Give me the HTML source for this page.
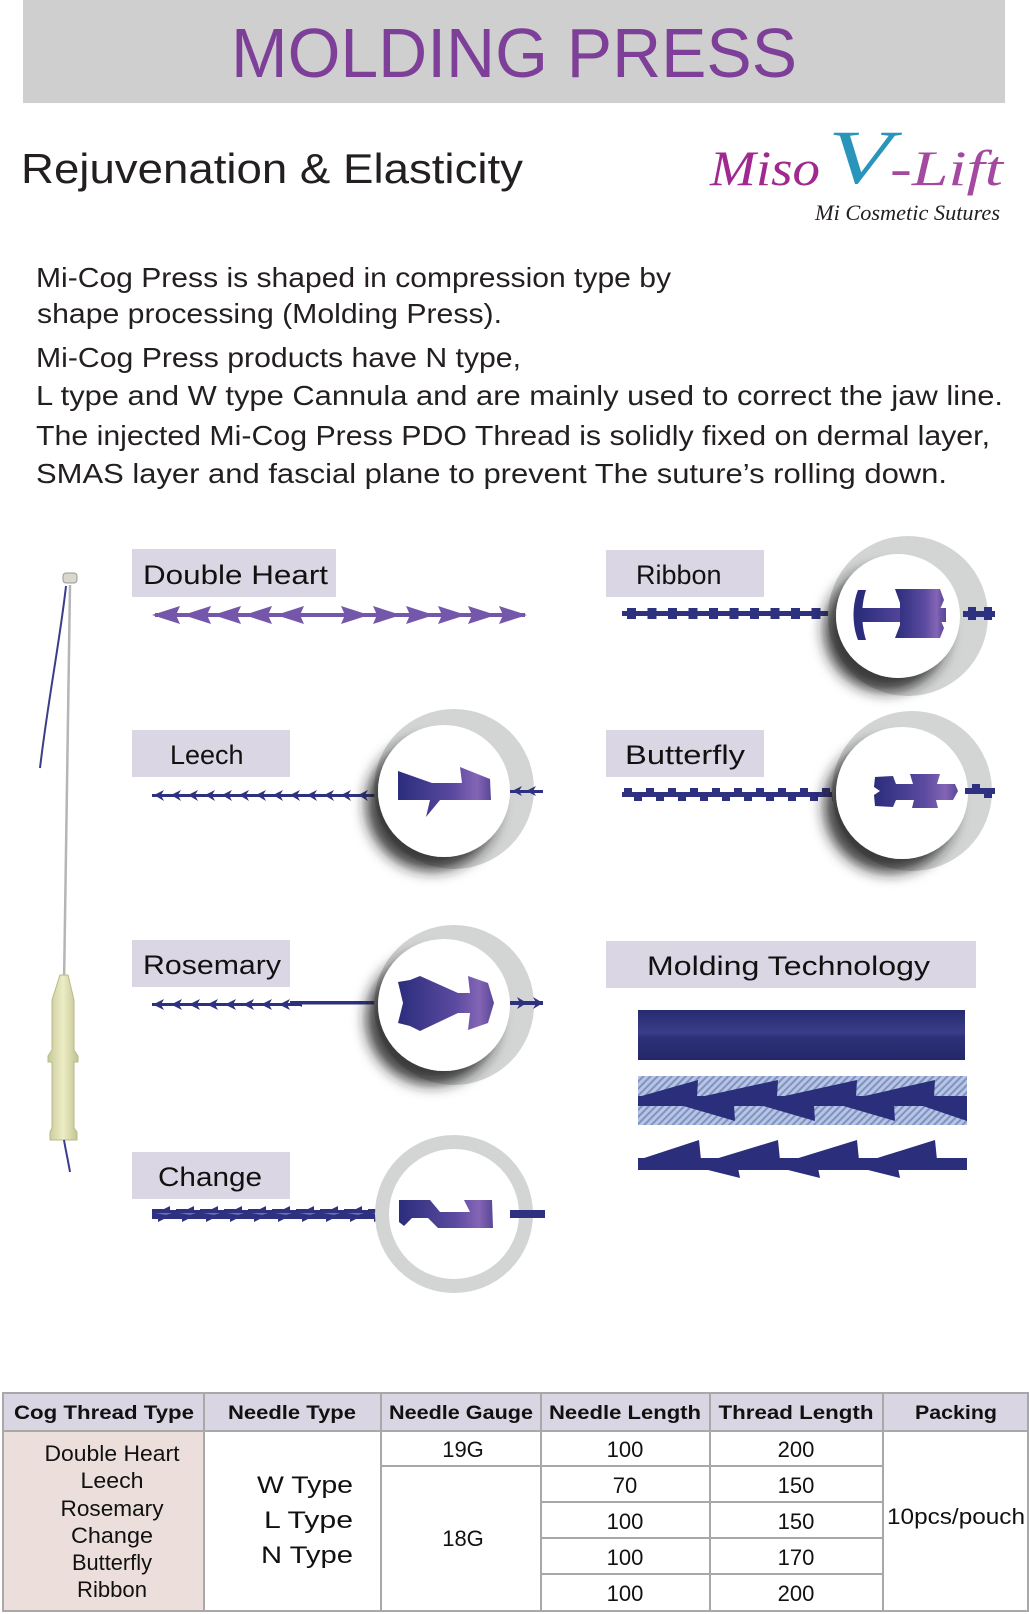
<!DOCTYPE html>
<html><head><meta charset="utf-8"><style>
html,body{margin:0;padding:0;background:#fff;}
svg{display:block;}
</style></head><body>
<svg width="1029" height="1614" viewBox="0 0 1029 1614" xmlns="http://www.w3.org/2000/svg" font-family="Liberation Sans, sans-serif">
<defs>
  <filter id="sh" x="-50%" y="-50%" width="200%" height="200%">
    <feDropShadow dx="-12" dy="14" stdDeviation="7" flood-color="#222" flood-opacity="0.85"/>
  </filter>
  <linearGradient id="gp" x1="0" x2="1" y1="0" y2="0">
    <stop offset="0" stop-color="#2b2d7c"/><stop offset="0.6" stop-color="#5b4aa0"/><stop offset="0.85" stop-color="#8465b5"/><stop offset="1" stop-color="#5a4798"/>
  </linearGradient>
  <linearGradient id="hub" x1="0" x2="1">
    <stop offset="0" stop-color="#c8c99a"/><stop offset="0.5" stop-color="#ecedc4"/><stop offset="1" stop-color="#c2c392"/>
  </linearGradient>
  <linearGradient id="bar1" x1="0" x2="0" y1="0" y2="1">
    <stop offset="0" stop-color="#262a6e"/><stop offset="0.45" stop-color="#3a3e8a"/><stop offset="0.55" stop-color="#2d3178"/><stop offset="1" stop-color="#23276a"/>
  </linearGradient>
  <pattern id="hatch" width="5" height="5" patternUnits="userSpaceOnUse" patternTransform="rotate(45)">
    <rect width="5" height="5" fill="#b7c4e2"/><rect width="2" height="5" fill="#7f92c4"/>
  </pattern>
  <pattern id="ribP" x="622" y="0" width="20.5" height="30" patternUnits="userSpaceOnUse">
    <rect x="0" y="11" width="20.5" height="5" fill="#2e3180"/><rect x="5" y="8" width="9" height="11" fill="#2e3180"/>
  </pattern>
  <pattern id="butP" x="622" y="0" width="22" height="30" patternUnits="userSpaceOnUse">
    <rect x="0" y="12" width="22" height="5" fill="#2e3180"/><rect x="2" y="8" width="8" height="5" fill="#2e3180"/><rect x="12" y="16" width="8" height="5" fill="#2e3180"/>
  </pattern>
  <pattern id="leeP" x="152" y="0" width="17" height="30" patternUnits="userSpaceOnUse">
    <rect x="0" y="14" width="17" height="3" fill="#2e3180"/><path d="M2 15 L12 10 L9 15 L12 21 Z" fill="#2e3180"/>
  </pattern>
  <pattern id="rosP" x="152" y="0" width="18" height="30" patternUnits="userSpaceOnUse">
    <rect x="0" y="13" width="18" height="3" fill="#2e3180"/><path d="M1 14.5 L12 9 L9 14.5 L12 20 Z" fill="#2e3180"/>
  </pattern>
  <pattern id="chP" x="152" y="0" width="24" height="30" patternUnits="userSpaceOnUse">
    <path d="M0 9 L12 9 L18 6 L18 10 L24 10 L24 19 L12 19 L6 22 L6 19 L0 19 Z" fill="#2e3180"/>
    <path d="M3 13 L20 13 L14 15 Z" fill="#6a6fb0"/>
  </pattern>
</defs>

<rect x="23" y="0" width="982" height="103" fill="#cfcfcf"/>
<text x="514" y="77" text-anchor="middle" font-size="70" fill="#7e3f98" textLength="566" lengthAdjust="spacingAndGlyphs">MOLDING PRESS</text>

<text x="21" y="183" font-size="42" fill="#231f20" textLength="502" lengthAdjust="spacingAndGlyphs">Rejuvenation &amp; Elasticity</text>

<text x="710" y="185" font-family="Liberation Serif, serif" font-style="italic" font-size="50" fill="#a0288f" textLength="110" lengthAdjust="spacingAndGlyphs">Miso</text>
<text x="828" y="183" font-family="Liberation Serif, serif" font-style="italic" font-size="76" fill="#2a95bb" textLength="64" lengthAdjust="spacingAndGlyphs">V</text>
<text x="890" y="185" font-family="Liberation Serif, serif" font-style="italic" font-size="50" fill="#a449a0" textLength="113" lengthAdjust="spacingAndGlyphs">-Lift</text>
<text x="815" y="220" font-family="Liberation Serif, serif" font-style="italic" font-size="22" fill="#231f20" textLength="185" lengthAdjust="spacingAndGlyphs">Mi Cosmetic Sutures</text>

<g font-size="28" fill="#231f20">
<text x="36" y="287" textLength="635" lengthAdjust="spacingAndGlyphs">Mi-Cog Press is shaped in compression type by</text>
<text x="37" y="323" textLength="465" lengthAdjust="spacingAndGlyphs">shape processing (Molding Press).</text>
<text x="36" y="367" textLength="485" lengthAdjust="spacingAndGlyphs">Mi-Cog Press products have N type,</text>
<text x="36" y="405" textLength="967" lengthAdjust="spacingAndGlyphs">L type and W type Cannula and are mainly used to correct the jaw line.</text>
<text x="36" y="445" textLength="954" lengthAdjust="spacingAndGlyphs">The injected Mi-Cog Press PDO Thread is solidly fixed on dermal layer,</text>
<text x="36" y="483" textLength="911" lengthAdjust="spacingAndGlyphs">SMAS layer and fascial plane to prevent  The suture’s rolling down.</text>
</g>

<line x1="70" y1="585" x2="64" y2="985" stroke="#b5b5b5" stroke-width="2.5"/>
<path d="M66 586 C60 640 48 700 40 768" stroke="#3a3d88" stroke-width="2" fill="none"/>
<rect x="63" y="573" width="14" height="10" rx="3" fill="#d8d8cc" stroke="#999" stroke-width="1"/>
<path d="M60 975 L68 975 L74 1000 L74 1050 L78 1056 L78 1062 L74 1062 L74 1128 L77 1132 L77 1140 L50 1140 L50 1132 L52 1128 L52 1062 L48 1062 L48 1056 L52 1050 L52 1000 Z" fill="url(#hub)" stroke="#b8b98a" stroke-width="1"/>
<path d="M64 1140 C66 1152 68 1160 70 1172" stroke="#3a3d88" stroke-width="2" fill="none"/>

<g fill="#dbd6e3">
<rect x="132" y="549" width="204" height="48"/>
<rect x="606" y="550" width="158" height="47"/>
<rect x="132" y="730" width="158" height="47"/>
<rect x="606" y="730" width="158" height="47"/>
<rect x="132" y="940" width="158" height="47"/>
<rect x="606" y="941" width="370" height="47"/>
<rect x="132" y="1152" width="158" height="47"/>
</g>
<g font-size="27" fill="#111">
<text x="143" y="584" textLength="185" lengthAdjust="spacingAndGlyphs">Double Heart</text>
<text x="636" y="584">Ribbon</text>
<text x="170" y="764">Leech</text>
<text x="625" y="764" textLength="120" lengthAdjust="spacingAndGlyphs">Butterfly</text>
<text x="143" y="974" textLength="138" lengthAdjust="spacingAndGlyphs">Rosemary</text>
<text x="647" y="975" textLength="283" lengthAdjust="spacingAndGlyphs">Molding Technology</text>
<text x="158" y="1186" textLength="104" lengthAdjust="spacingAndGlyphs">Change</text>
</g>

<g fill="#7457aa">
<rect x="155" y="613" width="370" height="4"/>
<path d="M152 615 L180 606 L176 615 L180 624 Z"/>
<path d="M183 615 L211 606 L207 615 L211 624 Z"/>
<path d="M213 615 L241 606 L237 615 L241 624 Z"/>
<path d="M244 615 L272 606 L268 615 L272 624 Z"/>
<path d="M276 615 L304 606 L300 615 L304 624 Z"/>
<path d="M369 615 L341 606 L345 615 L341 624 Z"/>
<path d="M401 615 L373 606 L377 615 L373 624 Z"/>
<path d="M434 615 L406 606 L410 615 L406 624 Z"/>
<path d="M466 615 L438 606 L442 615 L438 624 Z"/>
<path d="M496 615 L468 606 L472 615 L468 624 Z"/>
<path d="M527 615 L499 606 L503 615 L499 624 Z"/>
</g>

<rect x="622" y="601" width="215" height="30" fill="url(#ribP)"/>
<circle cx="908" cy="616" r="80" fill="#d3d5d4"/>
<circle cx="898" cy="616" r="62" fill="#fff" filter="url(#sh)"/>
<rect x="963" y="611" width="32" height="6" fill="#2e3180"/><rect x="968" y="607" width="8" height="13" fill="#2e3180"/><rect x="984" y="607" width="8" height="13" fill="#2e3180"/>
<path d="M858 590 L866 590 C861 605 861 625 866 640 L858 640 C852 625 852 605 858 590 Z" fill="#2b2d7c"/>
<rect x="858" y="608" width="88" height="14" fill="url(#gp)"/>
<path d="M895 589 L940 589 L944 600 L938 614 L944 628 L940 638 L895 638 L900 625 L900 603 Z" fill="url(#gp)"/>

<rect x="152" y="776" width="230" height="30" fill="url(#leeP)"/>
<circle cx="454" cy="789" r="80" fill="#d3d5d4"/>
<circle cx="444" cy="791" r="66" fill="#fff" filter="url(#sh)"/>
<rect x="510" y="790" width="33" height="3" fill="#2e3180"/><path d="M512 791 L522 786 L519 791 L522 796 Z M526 791 L536 786 L533 791 L536 796 Z" fill="#2e3180"/>
<path d="M398 771 L432 783 L462 783 L460 767 L490 779 L491 800 L440 800 L426 817 L430 800 L398 800 Z" fill="url(#gp)"/>

<rect x="622" y="776" width="218" height="30" fill="url(#butP)"/>
<circle cx="912" cy="791" r="80" fill="#d3d5d4"/>
<circle cx="902" cy="793" r="66" fill="#fff" filter="url(#sh)"/>
<rect x="965" y="788" width="30" height="6" fill="#2e3180"/><rect x="972" y="784" width="8" height="6" fill="#2e3180"/><rect x="984" y="792" width="8" height="6" fill="#2e3180"/>
<path d="M875 777 L893 776 L896 784 L913 784 L910 774 L940 774 L937 784 L955 784 L958 791 L953 800 L936 800 L938 808 L912 808 L914 800 L896 800 L893 807 L875 806 L874 795 L880 791 L874 787 Z" fill="url(#gp)"/>

<rect x="152" y="988" width="150" height="30" fill="url(#rosP)"/>
<rect x="290" y="1001" width="92" height="3.5" fill="#2e3180"/>
<circle cx="454" cy="1005" r="80" fill="#d3d5d4"/>
<circle cx="444" cy="1005" r="66" fill="#fff" filter="url(#sh)"/>
<rect x="510" y="1001" width="33" height="4" fill="#2e3180"/><path d="M543 1003 L533 997 L536 1003 L533 1009 Z M527 1003 L517 997 L520 1003 L517 1009 Z" fill="#2e3180"/>
<path d="M398 982 L410 980 L420 976 L458 993 L470 993 L468 976 L488 983 L494 1003 L488 1023 L468 1030 L470 1013 L458 1013 L420 1031 L410 1026 L398 1023 L403 1003 Z" fill="url(#gp)"/>

<rect x="152" y="1200" width="235" height="30" fill="url(#chP)"/>
<circle cx="454" cy="1214" r="72" fill="none" stroke="#d3d5d4" stroke-width="14"/>
<rect x="510" y="1210" width="35" height="8" fill="#2e3180"/>
<path d="M399 1200 L430 1200 L440 1212 L470 1212 L464 1200 L492 1200 L493 1228 L438 1228 L428 1218 L412 1218 L404 1226 L399 1222 Z" fill="url(#gp)"/>

<rect x="638" y="1010" width="327" height="50" fill="url(#bar1)"/>
<rect x="638" y="1076" width="329" height="49" fill="url(#hatch)"/>
<rect x="638" y="1096" width="329" height="10" fill="#2b2e7a"/>
<g fill="#2b2e7a">
<path d="M638 1097 L698 1080 L697 1097 Z"/><path d="M700 1097 L778 1080 L777 1097 Z"/><path d="M780 1097 L857 1080 L856 1097 Z"/><path d="M860 1097 L935 1080 L934 1097 Z"/>
<path d="M680 1105 L735 1121 L734 1105 Z"/><path d="M760 1105 L815 1121 L814 1105 Z"/><path d="M840 1105 L895 1121 L894 1105 Z"/><path d="M920 1105 L967 1121 L967 1105 Z"/>
</g>
<g fill="#2b2e7a">
<rect x="638" y="1158" width="329" height="12"/>
<path d="M638 1160 L699 1140 L701 1160 Z"/><path d="M712 1160 L778 1140 L780 1160 Z"/><path d="M792 1160 L857 1140 L859 1160 Z"/><path d="M871 1160 L935 1140 L937 1160 Z"/>
<path d="M700 1168 L740 1178 L738 1168 Z"/><path d="M780 1168 L820 1178 L818 1168 Z"/><path d="M860 1168 L900 1178 L898 1168 Z"/>
</g>

<rect x="3" y="1393" width="1026" height="38" fill="#d9d5e2"/>
<rect x="3" y="1431" width="201" height="180" fill="#ecdfdb"/>
<g stroke="#a8a8a8" stroke-width="2" fill="none">
<rect x="3" y="1393" width="1025" height="218"/>
<line x1="3" y1="1431" x2="1028" y2="1431"/>
<line x1="204" y1="1393" x2="204" y2="1611"/>
<line x1="381" y1="1393" x2="381" y2="1611"/>
<line x1="541" y1="1393" x2="541" y2="1611"/>
<line x1="710" y1="1393" x2="710" y2="1611"/>
<line x1="883" y1="1393" x2="883" y2="1611"/>
<line x1="381" y1="1466" x2="883" y2="1466"/>
<line x1="541" y1="1502" x2="883" y2="1502"/>
<line x1="541" y1="1538" x2="883" y2="1538"/>
<line x1="541" y1="1574" x2="883" y2="1574"/>
</g>
<g font-size="19" font-weight="bold" fill="#111" text-anchor="middle">
<text x="104" y="1419" textLength="180" lengthAdjust="spacingAndGlyphs">Cog Thread Type</text>
<text x="292" y="1419" textLength="128" lengthAdjust="spacingAndGlyphs">Needle Type</text>
<text x="461" y="1419" textLength="144" lengthAdjust="spacingAndGlyphs">Needle Gauge</text>
<text x="625" y="1419" textLength="152" lengthAdjust="spacingAndGlyphs">Needle Length</text>
<text x="796" y="1419" textLength="155" lengthAdjust="spacingAndGlyphs">Thread Length</text>
<text x="956" y="1419" textLength="82" lengthAdjust="spacingAndGlyphs">Packing</text>
</g>
<g font-size="22" fill="#111" text-anchor="middle">
<text x="112" y="1461" textLength="135" lengthAdjust="spacingAndGlyphs">Double Heart</text>
<text x="112" y="1488" textLength="63" lengthAdjust="spacingAndGlyphs">Leech</text>
<text x="112" y="1516" textLength="103" lengthAdjust="spacingAndGlyphs">Rosemary</text>
<text x="112" y="1543" textLength="82" lengthAdjust="spacingAndGlyphs">Change</text>
<text x="112" y="1570" textLength="80" lengthAdjust="spacingAndGlyphs">Butterfly</text>
<text x="112" y="1597" textLength="70" lengthAdjust="spacingAndGlyphs">Ribbon</text>
<text x="463" y="1457">19G</text>
<text x="463" y="1546">18G</text>
<text x="625" y="1457">100</text><text x="796" y="1457">200</text>
<text x="625" y="1493">70</text><text x="796" y="1493">150</text>
<text x="625" y="1529">100</text><text x="796" y="1529">150</text>
<text x="625" y="1565">100</text><text x="796" y="1565">170</text>
<text x="625" y="1601">100</text><text x="796" y="1601">200</text>
<text x="956" y="1524" textLength="138" lengthAdjust="spacingAndGlyphs">10pcs/pouch</text>
</g>
<g font-size="24" fill="#111">
<text x="257" y="1493" textLength="96" lengthAdjust="spacingAndGlyphs">W  Type</text>
<text x="264" y="1528" textLength="89" lengthAdjust="spacingAndGlyphs">L   Type</text>
<text x="261" y="1563" textLength="92" lengthAdjust="spacingAndGlyphs">N  Type</text>
</g>
</svg>
</body></html>
